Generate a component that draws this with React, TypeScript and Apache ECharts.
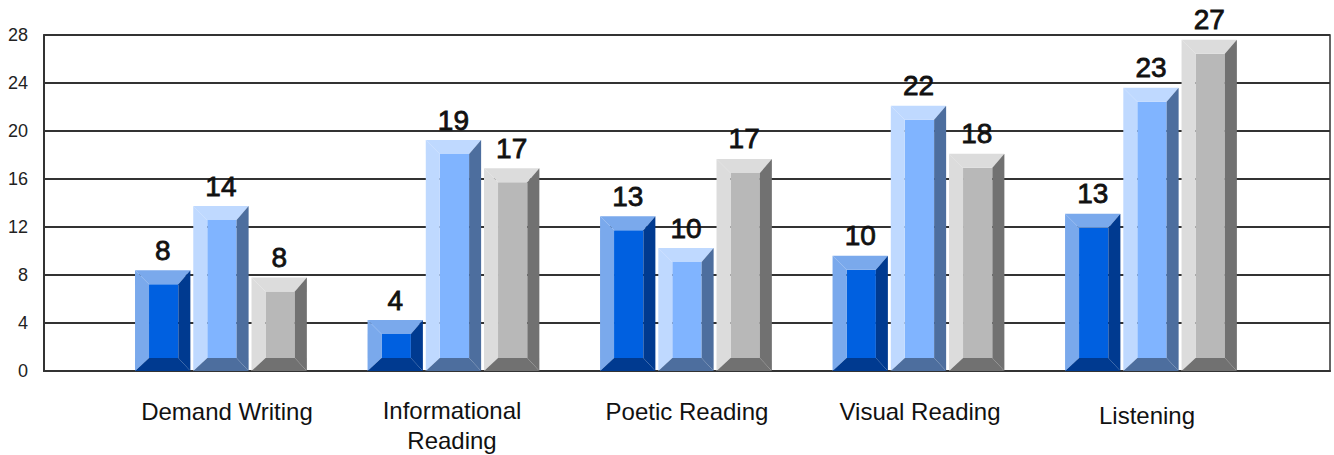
import React, { useEffect, useRef } from "react";
import * as echarts from "echarts";

const categories = ["Demand Writing", "Informational\nReading", "Poetic Reading", "Visual Reading", "Listening"];
const heightsA = [8.4, 4.25, 12.9, 9.6, 13.1];
const heightsB = [13.75, 19.25, 10.25, 22.1, 23.6];
const heightsC = [7.8, 16.9, 17.67, 18.1, 27.6];
const labelsA = ["8", "4", "13", "10", "13"];
const labelsB = ["14", "19", "10", "22", "23"];
const labelsC = ["8", "17", "17", "18", "27"];
const yTicks = { min: 0, max: 28, interval: 4 };

const FONT = "'Liberation Sans', Arial, sans-serif";
const BEVEL = 14;
const BAR_W = 0.238;
const OFFSET = 0.2505;

function barSeries(name: string, heights: number[], labels: string[], off: number, colors: { face: string; light: string; dark: string }) {
  return {
    type: "custom",
    name,
    coordinateSystem: "cartesian2d",
    clip: false,
    data: heights.map((v, i) => [i, v]),
    renderItem: (params: any, api: any) => {
      const i = api.value(0);
      const v = api.value(1);
      const [x0, yT] = api.coord([i + off - BAR_W / 2, v]);
      const [x1, yB] = api.coord([i + off + BAR_W / 2, 0]);
      const b = BEVEL;
      const fx0 = x0 + b;
      const fx1 = x1 - 12;
      const fyT = yT + b;
      const fyB = yB - 13;
      const poly = (points: number[][], fill: string) => ({ type: "polygon", shape: { points }, style: { fill } });
      return {
        type: "group",
        children: [
          poly([[fx0, fyT], [fx1, fyT], [fx1, fyB], [fx0, fyB]], colors.face),
          poly([[x0, yT], [x1, yT], [fx1, fyT], [fx0, fyT]], colors.light),
          poly([[x0, yT], [fx0, fyT], [fx0, fyB], [x0, yB]], colors.light),
          poly([[x1, yT], [x1, yB], [fx1, fyB], [fx1, fyT]], colors.dark),
          poly([[x0, yB], [fx0, fyB], [fx1, fyB], [x1, yB]], colors.dark),
          {
            type: "text",
            style: {
              text: labels[i],
              x: (x0 + x1) / 2,
              y: yT - 20,
              align: "center",
              verticalAlign: "middle",
              font: `28px ${FONT}`,
              fill: "#111",
              stroke: "#111",
              lineWidth: 0.8,
            },
          },
        ],
      };
    },
  };
}

export default function App() {
  const ref = useRef<HTMLDivElement>(null);
  useEffect(() => {
    const chart = echarts.init(ref.current!, undefined, { renderer: "svg" });
    const catX = [227, 452, 687, 920, 1147];
    const catY = [411, 425, 411, 411, 415];
    chart.setOption({
      animation: false,
      backgroundColor: "#fff",
      grid: { left: 44, top: 35, width: 1286, height: 336, show: true, borderColor: "#333", borderWidth: 1.5, backgroundColor: "transparent" },
      xAxis: {
        type: "value",
        min: -0.761,
        max: 4.77,
        show: true,
        splitLine: { show: false },
        axisTick: { show: false },
        axisLabel: { show: false },
        axisLine: { show: true, onZero: false, lineStyle: { color: "#333", width: 2 } },
      },
      yAxis: {
        type: "value",
        ...yTicks,
        axisLine: { show: true, onZero: false, lineStyle: { color: "#333", width: 2 } },
        axisTick: { show: false },
        axisLabel: { fontFamily: FONT, fontSize: 18, color: "#222", margin: 16 },
        splitLine: { show: true, lineStyle: { color: "#333", width: 2 } },
      },
      series: [
        barSeries("A", heightsA, labelsA, -OFFSET, { face: "#0060e0", light: "#7aa9ec", dark: "#003a90" }),
        barSeries("B", heightsB, labelsB, 0, { face: "#80b4ff", light: "#bfd9ff", dark: "#4d6e9e" }),
        barSeries("C", heightsC, labelsC, OFFSET, { face: "#b8b8b8", light: "#dcdcdc", dark: "#717171" }),
      ],
      graphic: categories.map((t, i) => ({
        type: "text",
        x: catX[i],
        y: catY[i],
        style: { text: t, font: `24px ${FONT}`, fill: "#111", align: "center", verticalAlign: "middle", lineHeight: 30 },
      })),
    });
    return () => chart.dispose();
  }, []);
  return <div ref={ref} style={{ position: "fixed", left: 0, top: 0, width: 1334, height: 455 }} />;
}
